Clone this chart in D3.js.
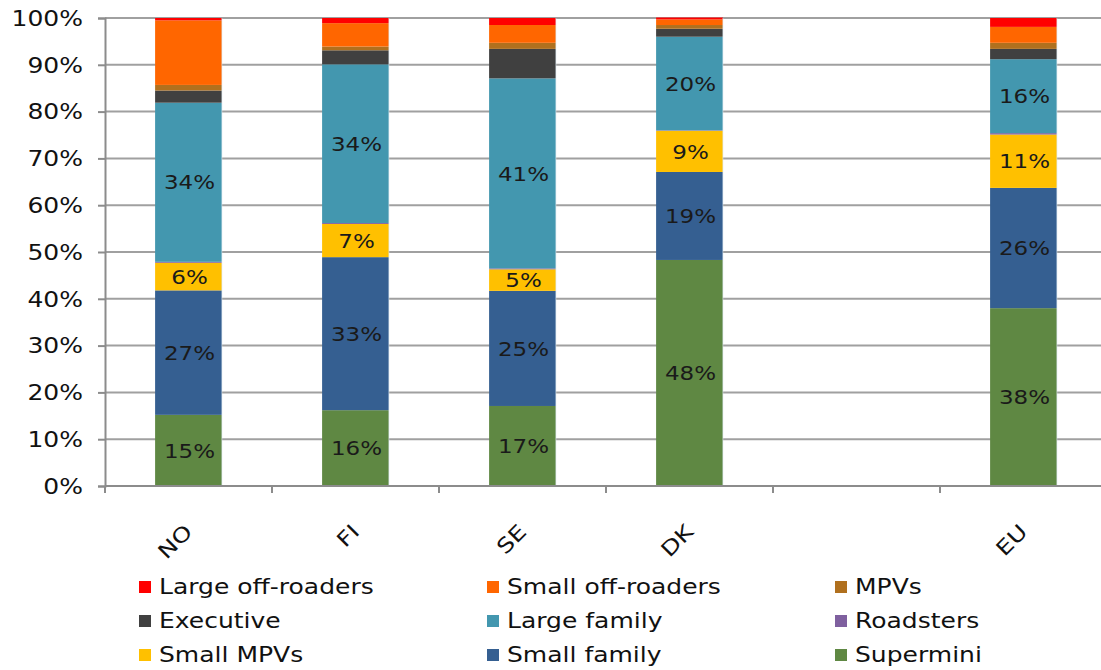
<!DOCTYPE html>
<html><head><meta charset="utf-8">
<script src="https://cdn.jsdelivr.net/npm/d3@7"></script>
<style>body{margin:0;background:#fff}svg{display:block}</style>
</head><body>
<svg id="c" width="1101" height="670"></svg>
<script>
const categories = ["NO","FI","SE","DK","","EU"];
const seriesNames = ["Supermini","Small family","Small MPVs","Roadsters","Large family","Executive","MPVs","Small off-roaders","Large off-roaders"];
const supermini      = [15.2, 16.2, 17.1, 48.3, 0, 38.0];
const smallFamily    = [26.6, 32.7, 24.6, 18.8, 0, 25.7];
const smallMPVs      = [5.9, 7.1, 4.6, 8.8, 0, 11.4];
const roadsters      = [0.2, 0.2, 0.2, 0.1, 0, 0.3];
const largeFamily    = [34.0, 33.9, 40.6, 20.0, 0, 15.8];
const executive      = [2.6, 3.0, 6.3, 1.7, 0, 2.2];
const mpvs           = [1.2, 0.8, 1.3, 0.8, 0, 1.3];
const smallOffRoad   = [13.8, 5.0, 3.8, 1.2, 0, 3.4];
const largeOffRoad   = [0.5, 1.1, 1.5, 0.4, 0, 1.9];
const yTicks = [0,10,20,30,40,50,60,70,80,90,100];
const legendOrder = ["Large off-roaders","Small off-roaders","MPVs","Executive","Large family","Roadsters","Small MPVs","Small family","Supermini"];
const colors = {"Supermini":"#5F8843","Small family":"#355F91","Small MPVs":"#FFC000","Roadsters":"#7F609F","Large family":"#4397AF","Executive":"#404040","MPVs":"#B0701E","Small off-roaders":"#FF6600","Large off-roaders":"#FF0000"};
const seriesValues = [supermini, smallFamily, smallMPVs, roadsters, largeFamily, executive, mpvs, smallOffRoad, largeOffRoad];
const labelled = ["Supermini","Small family","Small MPVs","Large family"];

const FONT = "'DejaVu Sans', Verdana, sans-serif";
const SX = 1.22;
const TXT = "#111";
const svg = d3.select("#c");
const L = 105, R = 1107, T = 18, B = 486;
const x = d3.scaleBand().domain(categories).range([L, R]).paddingInner(0.6).paddingOuter(0.3);
const y = d3.scaleLinear().domain([0,100]).range([B, T]);

// gridlines
svg.append("g").selectAll("line").data(yTicks).join("line")
  .attr("x1", L).attr("x2", 1101).attr("y1", d=>y(d)).attr("y2", d=>y(d))
  .attr("stroke", "#a0a0a0").attr("stroke-width", 2);

// y axis
const yAxis = svg.append("g").attr("transform", `translate(${L},0)`)
  .call(d3.axisLeft(y).tickValues(yTicks).tickSize(7).tickFormat(d=>d+"%"));
yAxis.select(".domain").attr("stroke", "#8c8c8c").attr("stroke-width", 2);
yAxis.selectAll(".tick line").attr("stroke", "#8c8c8c").attr("stroke-width", 2);
yAxis.selectAll(".tick text")
  .attr("x", null).attr("dy", null)
  .attr("transform", `translate(-22,0) scale(${SX},1)`)
  .attr("dy", "0.36em")
  .attr("font-family", FONT).attr("font-size", 20.5).attr("fill", TXT);

// stacked data
const rows = categories.map((c,i)=>{const o={cat:c}; seriesNames.forEach((s,j)=>o[s]=seriesValues[j][i]); return o;});
const stack = d3.stack().keys(seriesNames)(rows);

const bars = svg.append("g");
stack.forEach(layer=>{
  bars.append("g").selectAll("rect").data(layer.filter(d=>d.data.cat!=="")).join("rect")
    .attr("x", d=>x(d.data.cat)).attr("width", x.bandwidth())
    .attr("y", d=>y(d[1])).attr("height", d=>y(d[0])-y(d[1]))
    .attr("fill", colors[layer.key]);
  if (labelled.includes(layer.key)) {
    bars.append("g").selectAll("text").data(layer.filter(d=>d.data.cat!=="" && d[1]-d[0]>=3)).join("text")
      .attr("transform", d=>`translate(${x(d.data.cat)+x.bandwidth()/2+1},${(y(d[0])+y(d[1]))/2}) scale(1.15,1)`)
      .attr("dy", "0.36em").attr("text-anchor", "middle")
      .attr("font-family", FONT).attr("font-size", 20).attr("fill", "#1a1a1a")
      .text(d=>Math.round(d[1]-d[0])+"%");
  }
});
// thin light edges on bars
bars.append("g").selectAll("line").data(categories.filter(c=>c!=="")).join("line")
  .attr("x1", c=>x(c)+x.bandwidth()).attr("x2", c=>x(c)+x.bandwidth()).attr("y1", T).attr("y2", B)
  .attr("stroke", "#dbe8f0").attr("stroke-width", 1).attr("opacity", 0.6);

// x axis
const step = x.step();
const bounds = d3.range(categories.length+1).map(i=>L+i*step);
svg.append("g").selectAll("line").data(bounds).join("line")
  .attr("x1", d=>d).attr("x2", d=>d).attr("y1", B).attr("y2", B+7)
  .attr("stroke", "#8c8c8c").attr("stroke-width", 2);
svg.append("line").attr("x1", L).attr("x2", 1101).attr("y1", B).attr("y2", B)
  .attr("stroke", "#8c8c8c").attr("stroke-width", 2);
svg.append("g").selectAll("text").data(categories).join("text")
  .attr("transform", c=>`translate(${x(c)+x.bandwidth()/2-5},${B+37}) rotate(-45) scale(${SX},1)`)
  .attr("text-anchor", "end").attr("dy", "0.7em")
  .attr("font-family", FONT).attr("font-size", 20.5).attr("fill", TXT)
  .text(c=>c);

// legend
const leg = svg.append("g");
legendOrder.forEach((name,i)=>{
  const col = i%3, row = Math.floor(i/3);
  const lx = [139, 487, 835][col], ly = 587 + row*34;
  leg.append("rect").attr("x", lx).attr("y", ly-6).attr("width", 12).attr("height", 12).attr("fill", colors[name]);
  leg.append("text").attr("transform", `translate(${lx+20},${ly}) scale(${SX},1)`).attr("dy", "0.36em")
    .attr("font-family", FONT).attr("font-size", 20.5).attr("fill", TXT).text(name);
});
</script>
</body></html>
